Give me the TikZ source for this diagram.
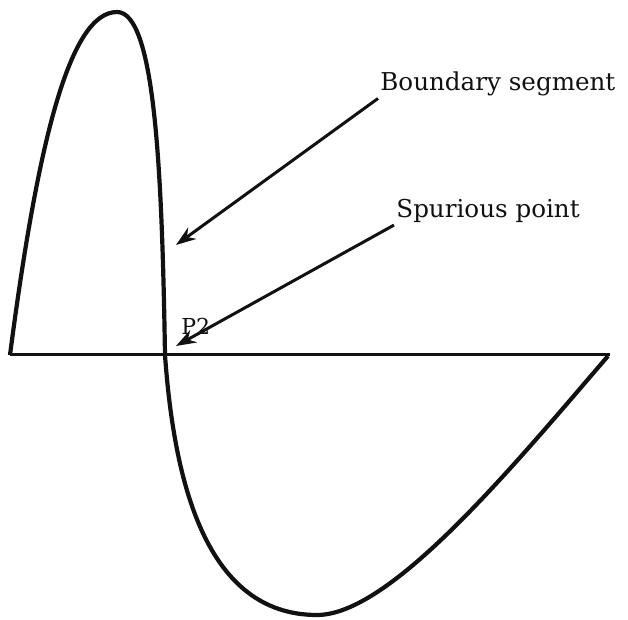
\documentclass[tikz,border=0pt]{standalone}
\usepackage{fontspec}
\setmainfont{DejaVu Serif}
\usetikzlibrary{arrows.meta}

\begin{document}
\begin{tikzpicture}[x=0.5pt,y=-0.5pt,font=\fontsize{12.3}{14}\selectfont]
\definecolor{ink}{HTML}{111111}
\tikzset{curve/.style={ink,line width=2.1pt,line join=round},
  axis/.style={ink,line width=1.5pt},
  pointer/.style={ink,line width=1.5pt,-{Stealth[length=10pt,width=7pt]}},
  label/.style={anchor=west,inner sep=1pt,text=ink}}
\useasboundingbox (0,0) rectangle (628,620);
% baseline of the region
\draw[axis] (10,355) -- (610,355);
% the boundary, two lobes
\draw[curve] (10,355) .. controls (38,140) and (70,12) .. (117,12)
  .. controls (155,12) and (162,170) .. (165,355)
  .. controls (174,480) and (205,615) .. (317,615)
  .. controls (390,615) and (510,470) .. (608,356);
\coordinate (segtip) at (176,245);
\coordinate (pttip) at (176,346);
\node[label] (seg) at (378,84) {Boundary segment};
\node[label] (pt) at (394,211) {Spurious point};
\node[anchor=west,inner sep=0pt,text=ink,font=\fontsize{11}{12}\selectfont] (ptname) at (181,326) {P2};
\draw[pointer] (seg.south west) -- (segtip);
\draw[pointer] (pt.south west) -- (pttip);
\end{tikzpicture}
\end{document}
